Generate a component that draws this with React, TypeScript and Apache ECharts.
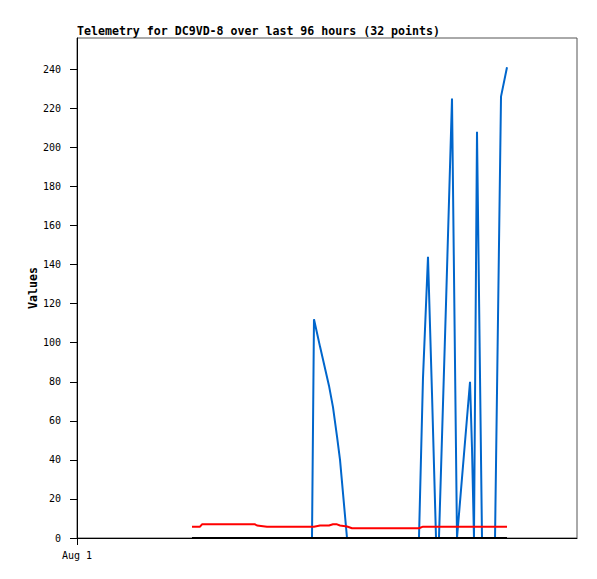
import React, { useEffect, useRef } from "react";
import * as echarts from "echarts";

const TITLE = "Telemetry for DC9VD-8 over last 96 hours (32 points)";
const Y_NAME = "Values";
const START_LABEL = "Aug 1";
const RANGE_HOURS = 96;
const Y_MAX = 256;
const yTickValues = [0, 20, 40, 60, 80, 100, 120, 140, 160, 180, 200, 220, 240];

// hours since the start of the axis (Aug 1)
const hours = [
  22.08, 23.62, 24.0, 34.18, 34.56, 36.48, 45.12, 45.5, 46.66, 48.38, 49.15,
  49.92, 50.5, 51.84, 52.8, 65.66, 66.43, 67.39, 68.16, 68.93, 69.5, 70.85,
  72.0, 72.96, 75.46, 75.84, 76.22, 76.8, 77.76, 80.26, 81.41, 82.56,
];

const blueValues = [
  0, 0, 0, 0, 0, 0, 0, 112, 98, 78, 67, 52, 40, 0, 0, 0, 82, 144, 74, 0, 0,
  120, 225, 0, 80, 46, 0, 208, 0, 0, 226, 241,
];

const redValues = [
  5.8, 5.8, 7, 7, 6.4, 5.8, 5.8, 5.8, 6.4, 6.4, 7, 7, 6.4, 5.9, 5, 5, 5.8,
  5.8, 5.8, 5.8, 5.8, 5.8, 5.8, 5.8, 5.8, 5.8, 5.8, 5.8, 5.8, 5.8, 5.8, 5.8,
];

const blackValues = [
  0, 0, 0, 0, 0, 0, 0, 0, 0, 0, 0, 0, 0, 0, 0, 0, 0, 0, 0, 0, 0, 0, 0, 0, 0,
  0, 0, 0, 0, 0, 0, 0,
];

const FONT = "DejaVu Sans Mono";

export default function App() {
  const ref = useRef<HTMLDivElement>(null);

  useEffect(() => {
    if (!ref.current) return;
    const chart = echarts.init(ref.current, null, { renderer: "svg" });
    const mk = (vals: number[]) => hours.map((h, i) => [h, vals[i]]);
    const lineSeries = (name: string, vals: number[], color: string, z: number) => ({
      name,
      type: "line",
      data: mk(vals),
      showSymbol: false,
      symbol: "none",
      z,
      lineStyle: { color, width: 2 },
      itemStyle: { color },
    });
    chart.setOption({
      animation: false,
      backgroundColor: "#ffffff",
      title: {
        text: TITLE,
        left: 77,
        top: 25,
        padding: 0,
        textStyle: {
          fontFamily: FONT,
          fontSize: 11.6,
          fontWeight: "bold",
          color: "#000",
        },
      },
      grid: {
        left: 77,
        right: 20,
        top: 38,
        bottom: 41,
        show: true,
        borderColor: "#555",
        borderWidth: 1,
        backgroundColor: "transparent",
      },
      xAxis: {
        type: "value",
        min: 0,
        max: RANGE_HOURS,
        axisLine: { show: true, lineStyle: { color: "#000", width: 1 } },
        axisTick: {
          show: true,
          customValues: [0],
          length: 7,
          lineStyle: { color: "#000", width: 1 },
        },
        axisLabel: {
          customValues: [0],
          formatter: () => START_LABEL,
          margin: 12,
          fontFamily: FONT,
          fontSize: 10,
          color: "#000",
        },
        splitLine: { show: false },
      },
      yAxis: {
        type: "value",
        min: 0,
        max: Y_MAX,
        name: Y_NAME,
        nameLocation: "middle",
        nameGap: 38,
        nameMoveOverlap: false,
        nameTextStyle: {
          fontFamily: FONT,
          fontSize: 11.6,
          fontWeight: "bold",
          color: "#000",
        },
        axisLine: { show: true, lineStyle: { color: "#000", width: 1 } },
        axisTick: {
          show: true,
          customValues: yTickValues,
          length: 7,
          lineStyle: { color: "#000", width: 1 },
        },
        axisLabel: {
          customValues: yTickValues,
          margin: 16,
          fontFamily: FONT,
          fontSize: 10,
          color: "#000",
        },
        splitLine: { show: false },
      },
      series: [
        lineSeries("Value 1", blueValues, "#0066cc", 2),
        lineSeries("Value 2", redValues, "#ff0000", 3),
        lineSeries("Value 3", blackValues, "#000000", 4),
      ],
    });
    return () => chart.dispose();
  }, []);

  return (
    <div
      ref={ref}
      style={{ position: "fixed", left: 0, top: 0, width: 597, height: 579 }}
    />
  );
}
